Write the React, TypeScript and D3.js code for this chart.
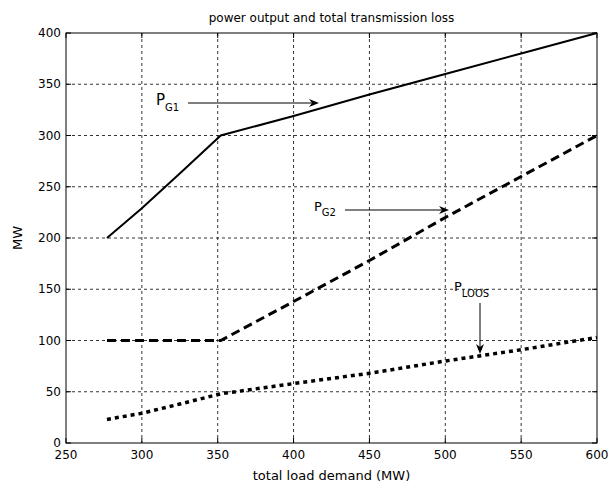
import React from "react";
import * as d3 from "d3";

const loads = [277, 300, 325, 352, 400, 450, 500, 550, 600];
const pg1 = [200, 229, 263, 300, 319, 340, 360, 380, 400];
const pg2 = [100, 100, 100, 100, 138, 178, 220, 260, 300];
const ploss = [23, 29, 38, 48, 58, 68, 80, 91, 103];
const xTicks = [250, 300, 350, 400, 450, 500, 550, 600];
const yTicks = [0, 50, 100, 150, 200, 250, 300, 350, 400];

const W = 609, H = 488;
const L = 66, R = 597, T = 33, B = 443;
const FONT = "'DejaVu Sans', Arial, sans-serif";

export default function App() {
  const x = d3.scaleLinear().domain([250, 600]).range([L, R]);
  const y = d3.scaleLinear().domain([0, 400]).range([B, T]);
  const line = d3.line<number>().x((_, i) => x(loads[i])).y((v) => y(v));

  const series = [
    { d: pg1, dash: undefined as string | undefined, w: 2 },
    { d: pg2, dash: "9,5", w: 3 },
    { d: ploss, dash: "4,4", w: 3.5 },
  ];

  const arrowHead = (tx: number, ty: number, dir: "right" | "down") => {
    if (dir === "right")
      return `M${tx},${ty} L${tx - 10},${ty - 4} L${tx - 7},${ty} L${tx - 10},${ty + 4} Z`;
    return `M${tx},${ty} L${tx - 4},${ty - 10} L${tx},${ty - 7} L${tx + 4},${ty - 10} Z`;
  };

  return (
    <svg width={W} height={H} style={{ position: "absolute", left: 0, top: 0, background: "#fff" }}>
      <rect x={0} y={0} width={W} height={H} fill="#fff" />
      <g stroke="#000" strokeWidth={0.8} strokeDasharray="3,3">
        {xTicks.slice(1, -1).map((t) => (
          <line key={"gx" + t} x1={x(t)} x2={x(t)} y1={T} y2={B} />
        ))}
        {yTicks.slice(1, -1).map((t) => (
          <line key={"gy" + t} x1={L} x2={R} y1={y(t)} y2={y(t)} />
        ))}
      </g>
      <g stroke="#000" strokeWidth={1}>
        {xTicks.map((t) => (
          <g key={"tx" + t}>
            <line x1={x(t)} x2={x(t)} y1={B} y2={B - 5} />
            <line x1={x(t)} x2={x(t)} y1={T} y2={T + 5} />
          </g>
        ))}
        {yTicks.map((t) => (
          <g key={"ty" + t}>
            <line x1={L} x2={L + 5} y1={y(t)} y2={y(t)} />
            <line x1={R} x2={R - 5} y1={y(t)} y2={y(t)} />
          </g>
        ))}
      </g>
      {series.map((s, i) => (
        <path key={i} d={line(s.d) || ""} fill="none" stroke="#000" strokeWidth={s.w} strokeDasharray={s.dash} />
      ))}
      <rect x={L} y={T} width={R - L} height={B - T} fill="none" stroke="#000" strokeWidth={1} />
      <g fontFamily={FONT} fontSize={12} fill="#000">
        {xTicks.map((t) => (
          <text key={"lx" + t} x={x(t)} y={B + 16} textAnchor="middle">{t}</text>
        ))}
        {yTicks.map((t) => (
          <text key={"ly" + t} x={L - 5} y={y(t) + 4} textAnchor="end">{t}</text>
        ))}
        <text x={(L + R) / 2} y={22} textAnchor="middle">power output and total transmission loss</text>
        <text x={(L + R) / 2} y={480} textAnchor="middle" fontSize={13}>total load demand (MW)</text>
        <text transform={`translate(22,${(T + B) / 2}) rotate(-90)`} textAnchor="middle" fontSize={13}>MW</text>
      </g>
      <g fontFamily={FONT} fill="#000">
        <text x={156} y={105} fontSize={15}>P<tspan fontSize={10} dy={6}>G1</tspan></text>
        <text x={314} y={211} fontSize={13}>P<tspan fontSize={10} dy={5}>G2</tspan></text>
        <text x={454} y={291} fontSize={13}>P<tspan fontSize={10} dy={6}>LOOS</tspan></text>
      </g>
      <g stroke="#000" strokeWidth={1}>
        <line x1={188} x2={312} y1={103} y2={103} />
        <line x1={345} x2={442} y1={210} y2={210} />
        <line x1={480} x2={480} y1={303} y2={347} />
      </g>
      <g fill="#000">
        <path d={arrowHead(319, 103, "right")} />
        <path d={arrowHead(449, 210, "right")} />
        <path d={arrowHead(480, 354, "down")} />
      </g>
    </svg>
  );
}
